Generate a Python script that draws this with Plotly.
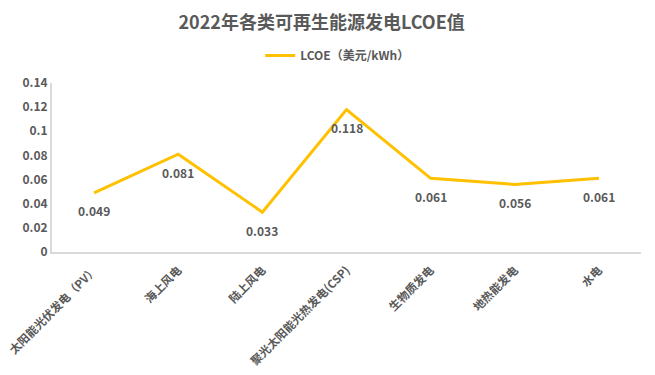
import plotly.graph_objects as go

categories = ["太阳能光伏发电（PV）", "海上风电", "陆上风电", "聚光太阳能光热发电(CSP)",
              "生物质发电", "地热能发电", "水电"]
values = [0.049, 0.081, 0.033, 0.118, 0.061, 0.056, 0.061]
y_ticks = [0, 0.02, 0.04, 0.06, 0.08, 0.1, 0.12, 0.14]
y_tick_labels = ["0", "0.02", "0.04", "0.06", "0.08", "0.1", "0.12", "0.14"]

FONT = "Noto Sans CJK SC"
GRAY = "#595959"

fig = go.Figure()
fig.add_trace(go.Scatter(
    x=categories, y=values, mode="lines",
    name="LCOE（美元/kWh）",
    line=dict(color="#FFC000", width=3),
))
for c, v in zip(categories, values):
    fig.add_annotation(x=c, y=v, text=f"{v:.3f}", showarrow=False, yshift=-18,
                       font=dict(family=FONT, size=12, color=GRAY, weight="bold"))

fig.update_layout(
    width=655, height=375,
    paper_bgcolor="white", plot_bgcolor="white",
    margin=dict(l=52, r=14, t=83, b=123, autoexpand=False),
    title=dict(text="<b>2022年各类可再生能源发电LCOE值</b>", x=0.491, xanchor="center",
               y=0.939, yanchor="middle",
               font=dict(family=FONT, size=18, color=GRAY)),
    showlegend=True,
    legend=dict(orientation="h", x=0.485, xanchor="center", y=1.163, yanchor="middle",
                font=dict(family=FONT, size=12, color=GRAY, weight="bold")),
    font=dict(family=FONT, color=GRAY),
)
fig.update_xaxes(
    type="category", range=[-0.5, len(categories) - 0.5],
    showgrid=False, showline=True, linecolor="#D9D9D9", linewidth=2,
    tickangle=-45, ticks="", automargin=False, ticklabelstandoff=5,
    tickfont=dict(family=FONT, size=11.5, color=GRAY, weight="bold"),
)
fig.update_yaxes(
    range=[0, 0.14], tickvals=y_ticks, ticktext=y_tick_labels, showgrid=False,
    showline=True, linecolor="#D9D9D9", linewidth=2, zeroline=False,
    ticks="", automargin=False,
    tickfont=dict(family=FONT, size=12, color=GRAY, weight="bold"),
)

fig.write_html("out.html", config={"displayModeBar": False},
               post_script="document.body.style.margin='0px';")
